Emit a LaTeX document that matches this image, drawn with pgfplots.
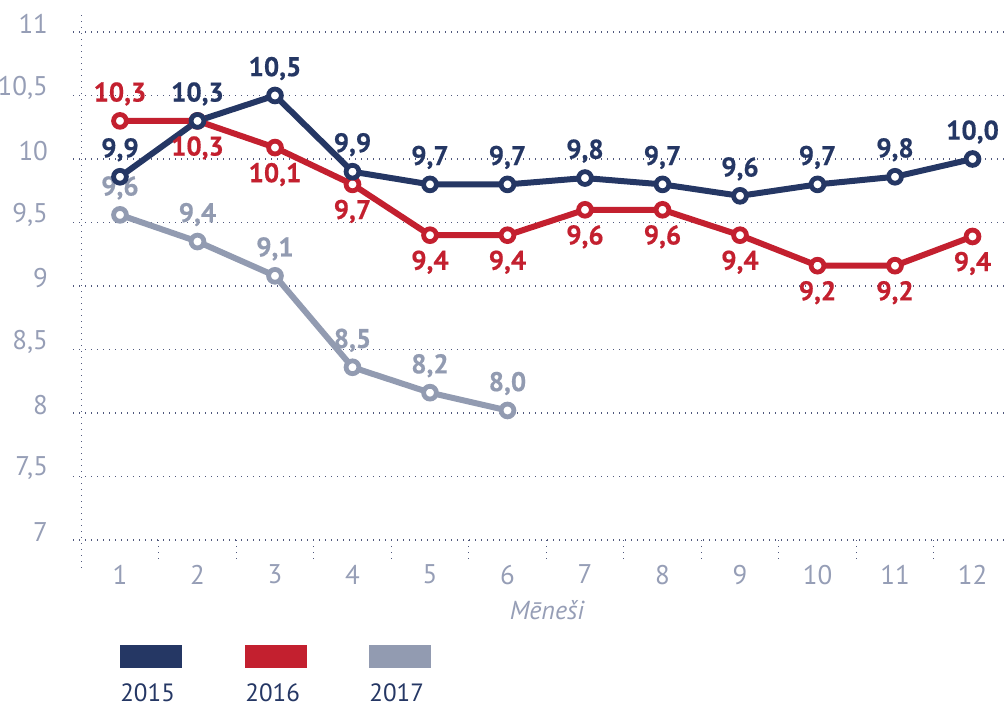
\documentclass[border=0pt]{standalone}
\usepackage{pgfplots}
\pgfplotsset{compat=1.18}
\usepackage{pgfplotstable}
\usepackage{fontspec}
\setmainfont{PT Sans}
\newfontfamily\lblfont[FakeBold=0.5]{PT Sans Bold}
\definecolor{navy}{RGB}{37,55,100}
\definecolor{cred}{RGB}{195,32,47}
\definecolor{cgray}{RGB}{146,155,177}
\definecolor{ticktxt}{RGB}{150,158,182}
\definecolor{gridc}{RGB}{80,88,125}

% x  y(plotted)  lbl(shown)  pos(+1 above, -1 below)
\pgfplotstableread{
x y lbl pos
1 9.86 9.9 1
2 10.30 10.3 1
3 10.50 10.5 1
4 9.90 9.9 1
5 9.80 9.7 1
6 9.80 9.7 1
7 9.85 9.8 1
8 9.80 9.7 1
9 9.71 9.6 1
10 9.80 9.7 1
11 9.86 9.8 1
12 10.00 10.0 1
}\dataA
\pgfplotstableread{
x y lbl pos
1 10.30 10.3 1
2 10.30 10.3 -1
3 10.09 10.1 -1
4 9.80 9.7 -1
5 9.40 9.4 -1
6 9.40 9.4 -1
7 9.60 9.6 -1
8 9.60 9.6 -1
9 9.40 9.4 -1
10 9.16 9.2 -1
11 9.16 9.2 -1
12 9.39 9.4 -1
}\dataB
\pgfplotstableread{
x y lbl pos
1 9.56 9.6 1
2 9.35 9.4 1
3 9.08 9.1 1
4 8.36 8.5 1
5 8.16 8.2 1
6 8.02 8.0 1
}\dataC

\pgfplotsset{
  lblplot/.style={line width=3pt, mark=*, mark size=3.2pt,
     mark options={fill=white, line width=2.4pt},
     nodes near coords,
     point meta=explicit,
     visualization depends on={\thisrow{pos} \as \lblpos},
     nodes near coords style={anchor=center, yshift=\lblpos*13.5pt, text=#1,
       font=\fontsize{13.5}{15}\lblfont,
       /pgf/number format/fixed, /pgf/number format/fixed zerofill,
       /pgf/number format/precision=1, /pgf/number format/use comma,
       /pgf/number format/assume math mode=true},
     color=#1},
}

\begin{document}
\begin{tikzpicture}
\begin{axis}[
  scale only axis,
  width=466.98pt, height=254pt,
  xmin=0.394, xmax=12.445,
  ymin=7, ymax=11,
  axis line style={draw=none},
  tick style={draw=none},
  clip=false,
  ytick={7,7.5,...,11},
  xtick={1,...,12},
  ymajorgrids,
  grid style={gridc, line width=0.6pt, dash pattern=on 0.6pt off 2.4pt},
  /pgf/number format/assume math mode=true,
  /pgf/number format/use comma,
  ticklabel style={font=\fontsize{13.5}{15}\selectfont, text=ticktxt},
  yticklabel style={anchor=east, xshift=-9pt, yshift=4pt},
  xticklabel style={anchor=north, yshift=-9pt},
]
% axis line and category separators
\draw[gridc, line width=0.6pt, dash pattern=on 0.6pt off 2.4pt] (axis cs:0.5,6.78) -- (axis cs:0.5,11.157);
\foreach \k in {1.5,2.5,...,11.5} {
  \edef\tmp{\noexpand\draw[gridc, line width=0.6pt, dash pattern=on 0.6pt off 2.4pt] (axis cs:\k,7) -- (axis cs:\k,6.819);}\tmp
}
\addplot[lblplot=cgray] table[x=x, y=y, meta=lbl] {\dataC};
\addplot[lblplot=cred] table[x=x, y=y, meta=lbl] {\dataB};
\addplot[lblplot=navy] table[x=x, y=y, meta=lbl] {\dataA};

\node[font=\fontsize{13}{15}\selectfont\itshape, text=ticktxt] at (axis cs:6.51,6.449) {Mēneši};

% legend
\fill[navy] (axis cs:1.0,6.173) rectangle (axis cs:1.8,5.992);
\fill[cred] (axis cs:2.613,6.173) rectangle (axis cs:3.413,5.992);
\fill[cgray] (axis cs:4.213,6.173) rectangle (axis cs:5.013,5.992);
\node[anchor=west, inner sep=0pt, text=navy, font=\fontsize{12.5}{14}\selectfont] at (axis cs:1.0,5.795) {2015};
\node[anchor=west, inner sep=0pt, text=navy, font=\fontsize{12.5}{14}\selectfont] at (axis cs:2.613,5.795) {2016};
\node[anchor=west, inner sep=0pt, text=navy, font=\fontsize{12.5}{14}\selectfont] at (axis cs:4.213,5.795) {2017};

\coordinate (BBa) at (axis cs:-0.548,5.693);
\coordinate (BBb) at (axis cs:12.445,11.252);
\end{axis}
\pgfresetboundingbox
\path (BBa) rectangle (BBb);
\end{tikzpicture}
\end{document}
